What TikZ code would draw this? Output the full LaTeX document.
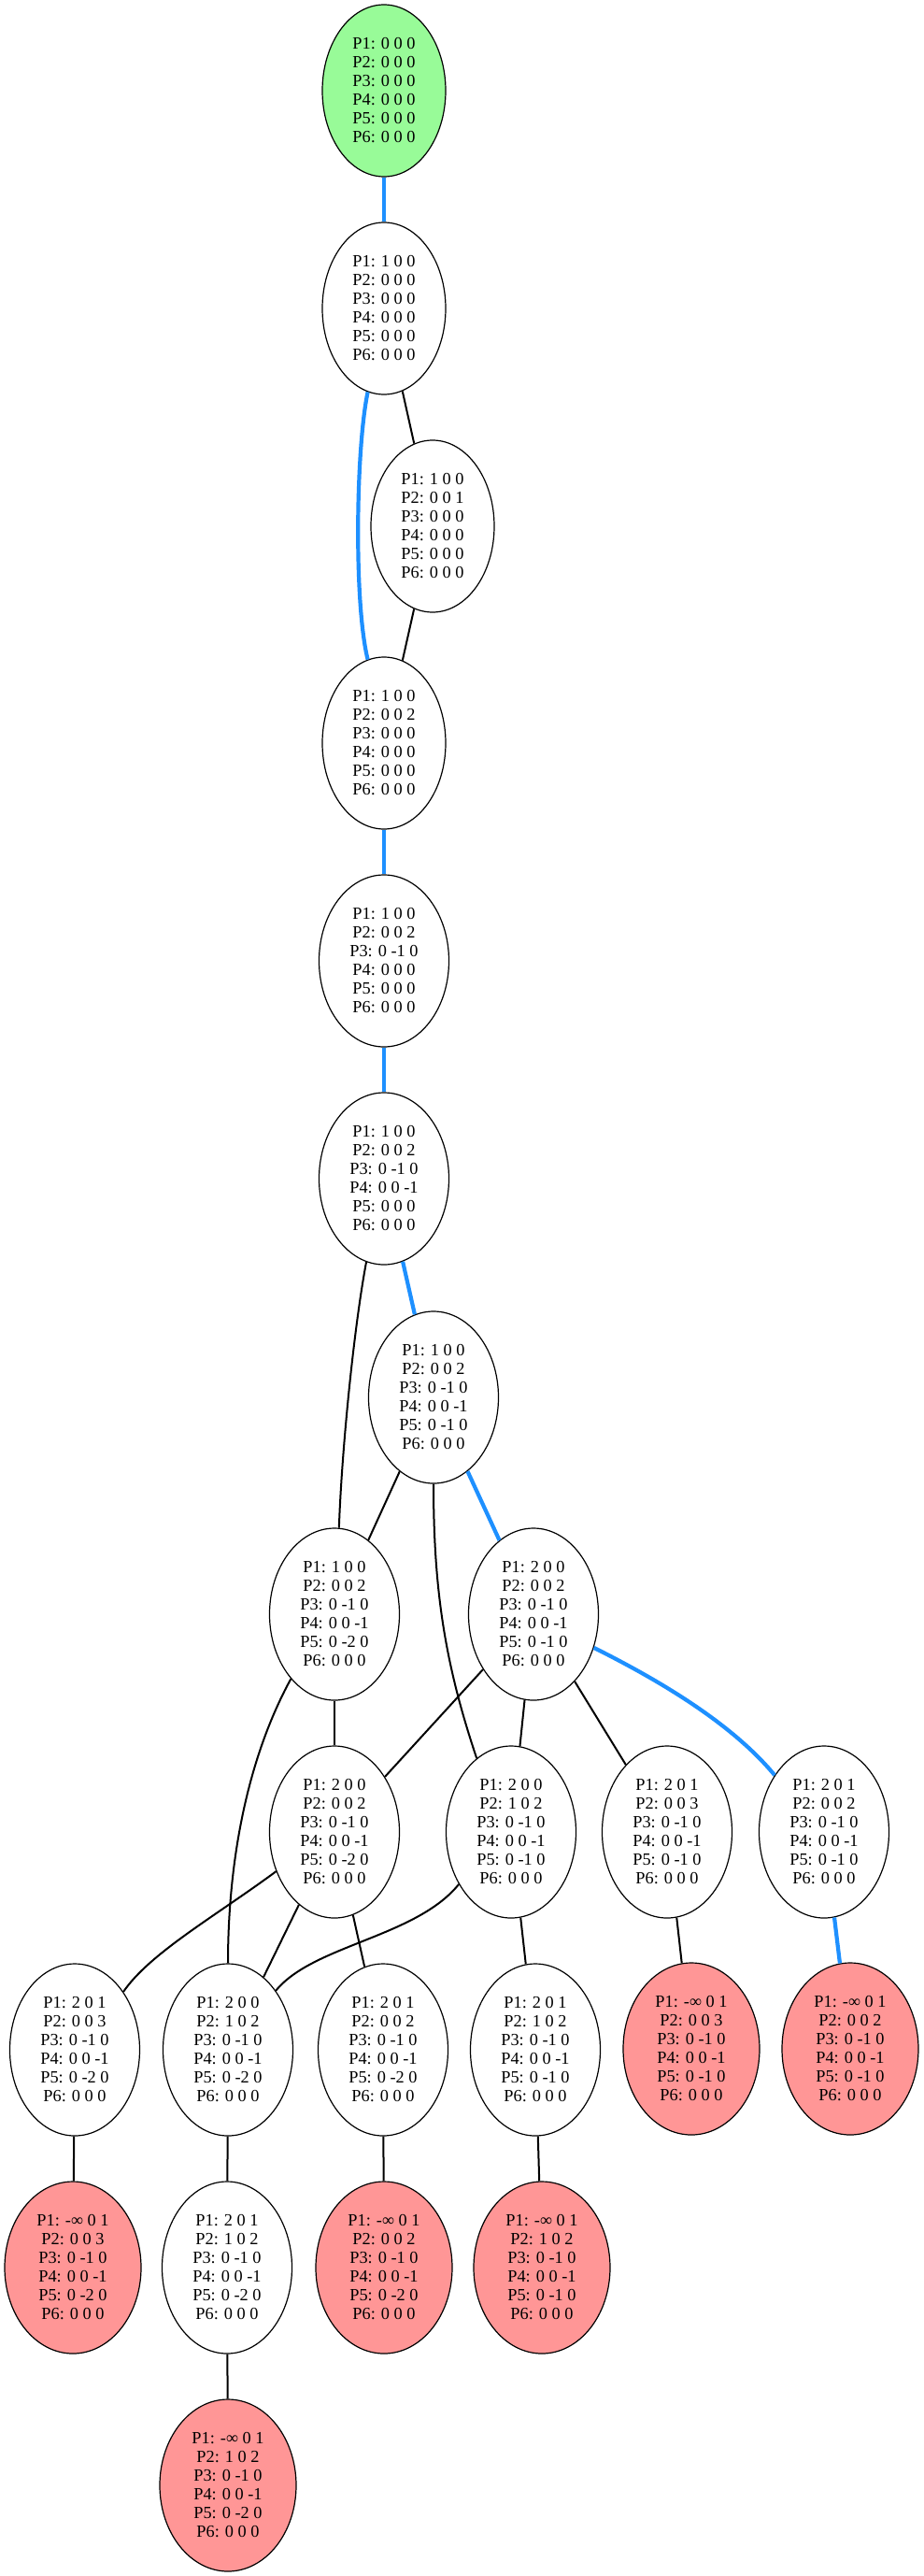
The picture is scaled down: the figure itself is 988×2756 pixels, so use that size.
\documentclass[tikz,border=0pt]{standalone}
\usepackage{fontspec}
\setmainfont{Liberation Serif}
\usetikzlibrary{shapes.geometric}

\definecolor{startgreen}{RGB}{152,251,152}
\definecolor{deadred}{RGB}{255,150,150}
\definecolor{pathblue}{RGB}{30,144,255}

% six-line state label
\newcommand{\statelines}[6]{P1: #1\\P2: #2\\P3: #3\\P4: #4\\P5: #5\\P6: #6}

\tikzset{
  state/.style={ellipse, draw=black, line width=1.2pt, fill=white,
    inner sep=0pt, minimum width=139pt, minimum height=184pt,
    align=center, font=\fontsize{18.3}{20}\selectfont},
  narrow/.style={minimum width=132pt},
  startstate/.style={fill=startgreen},
  deadstate/.style={fill=deadred, minimum width=146pt},
  link/.style={draw=black, line width=2pt},
  mainpath/.style={draw=pathblue, line width=4.2pt},
}

\begin{document}
\begin{tikzpicture}[x=1pt,y=1pt]
\fill[white] (0,0) rectangle (988,-2756);
\useasboundingbox (0,0) rectangle (988,-2756);

% states
\node[state,narrow,startstate] (v0) at (411,-97)  {\statelines{0 0 0}{0 0 0}{0 0 0}{0 0 0}{0 0 0}{0 0 0}};
\node[state,narrow] (v1) at (411,-330) {\statelines{1 0 0}{0 0 0}{0 0 0}{0 0 0}{0 0 0}{0 0 0}};
\node[state,narrow] (v2) at (463,-563) {\statelines{1 0 0}{0 0 1}{0 0 0}{0 0 0}{0 0 0}{0 0 0}};
\node[state,narrow] (v3) at (411,-795) {\statelines{1 0 0}{0 0 2}{0 0 0}{0 0 0}{0 0 0}{0 0 0}};
\node[state] (v4) at (411,-1028) {\statelines{1 0 0}{0 0 2}{0 -1 0}{0 0 0}{0 0 0}{0 0 0}};
\node[state] (v5) at (411,-1261) {\statelines{1 0 0}{0 0 2}{0 -1 0}{0 0 -1}{0 0 0}{0 0 0}};
\node[state] (v6) at (464,-1495) {\statelines{1 0 0}{0 0 2}{0 -1 0}{0 0 -1}{0 -1 0}{0 0 0}};
\node[state] (v7) at (358,-1727) {\statelines{1 0 0}{0 0 2}{0 -1 0}{0 0 -1}{0 -2 0}{0 0 0}};
\node[state] (v8) at (571,-1727) {\statelines{2 0 0}{0 0 2}{0 -1 0}{0 0 -1}{0 -1 0}{0 0 0}};
\node[state] (v9)  at (358,-1960) {\statelines{2 0 0}{0 0 2}{0 -1 0}{0 0 -1}{0 -2 0}{0 0 0}};
\node[state] (v10) at (547,-1960) {\statelines{2 0 0}{1 0 2}{0 -1 0}{0 0 -1}{0 -1 0}{0 0 0}};
\node[state] (v11) at (714,-1960) {\statelines{2 0 1}{0 0 3}{0 -1 0}{0 0 -1}{0 -1 0}{0 0 0}};
\node[state] (v12) at (882,-1960) {\statelines{2 0 1}{0 0 2}{0 -1 0}{0 0 -1}{0 -1 0}{0 0 0}};
\node[state] (v13) at (80,-2193)  {\statelines{2 0 1}{0 0 3}{0 -1 0}{0 0 -1}{0 -2 0}{0 0 0}};
\node[state] (v14) at (244,-2193) {\statelines{2 0 0}{1 0 2}{0 -1 0}{0 0 -1}{0 -2 0}{0 0 0}};
\node[state] (v15) at (410,-2193) {\statelines{2 0 1}{0 0 2}{0 -1 0}{0 0 -1}{0 -2 0}{0 0 0}};
\node[state] (v16) at (573,-2193) {\statelines{2 0 1}{1 0 2}{0 -1 0}{0 0 -1}{0 -1 0}{0 0 0}};
\node[state,deadstate] (v17) at (740,-2192) {\statelines{-∞ 0 1}{0 0 3}{0 -1 0}{0 0 -1}{0 -1 0}{0 0 0}};
\node[state,deadstate] (v18) at (910,-2192) {\statelines{-∞ 0 1}{0 0 2}{0 -1 0}{0 0 -1}{0 -1 0}{0 0 0}};
\node[state,deadstate] (v19) at (78,-2426)  {\statelines{-∞ 0 1}{0 0 3}{0 -1 0}{0 0 -1}{0 -2 0}{0 0 0}};
\node[state] (v20) at (243,-2426) {\statelines{2 0 1}{1 0 2}{0 -1 0}{0 0 -1}{0 -2 0}{0 0 0}};
\node[state,deadstate] (v21) at (411,-2426) {\statelines{-∞ 0 1}{0 0 2}{0 -1 0}{0 0 -1}{0 -2 0}{0 0 0}};
\node[state,deadstate] (v22) at (580,-2426) {\statelines{-∞ 0 1}{1 0 2}{0 -1 0}{0 0 -1}{0 -1 0}{0 0 0}};
\node[state,deadstate] (v23) at (244,-2659) {\statelines{-∞ 0 1}{1 0 2}{0 -1 0}{0 0 -1}{0 -2 0}{0 0 0}};

% highlighted path
\path[mainpath] (v0) -- (v1);
\path[mainpath] (v1.-101) .. controls +(-102:61) and +(104:62) .. (v3.101);
\path[mainpath] (v3) -- (v4);
\path[mainpath] (v4) -- (v5);
\path[mainpath] (v5) -- (v6);
\path[mainpath] (v6) -- (v8);
\path[mainpath] (v8.-29) .. controls +(-26.6:72) and +(129.6:75) .. (v12.131);
\path[mainpath] (v12) -- (v18);

% other transitions
\path[link] (v1) -- (v2);
\path[link] (v2) -- (v3);
\path[link] (v5.-102.5) .. controls +(-100.7:70) and +(88:85) .. (v7.87.5);
\path[link] (v6) -- (v7);
\path[link] (v6.-90) .. controls +(-90:114) and +(108.6:106) .. (v10.115.7);
\path[link] (v7) -- (v9);
\path[link] (v7.-124.3) .. controls +(-118.7:96) and +(90:111) .. (v14.90);
\path[link] (v8) -- (v9);
\path[link] (v8) -- (v10);
\path[link] (v8) -- (v11);
\path[link] (v9.-146.3) .. controls +(-143.6:81) and +(55.7:50) .. (v13.50);
\path[link] (v9) -- (v14);
\path[link] (v9) -- (v15);
\path[link] (v10.-135.5) .. controls +(-129:73) and +(50.8:63) .. (v14.51.3);
\path[link] (v10) -- (v16);
\path[link] (v11) -- (v17);
\path[link] (v13) -- (v19);
\path[link] (v14) -- (v20);
\path[link] (v15) -- (v21);
\path[link] (v16) -- (v22);
\path[link] (v20) -- (v23);
\end{tikzpicture}
\end{document}
